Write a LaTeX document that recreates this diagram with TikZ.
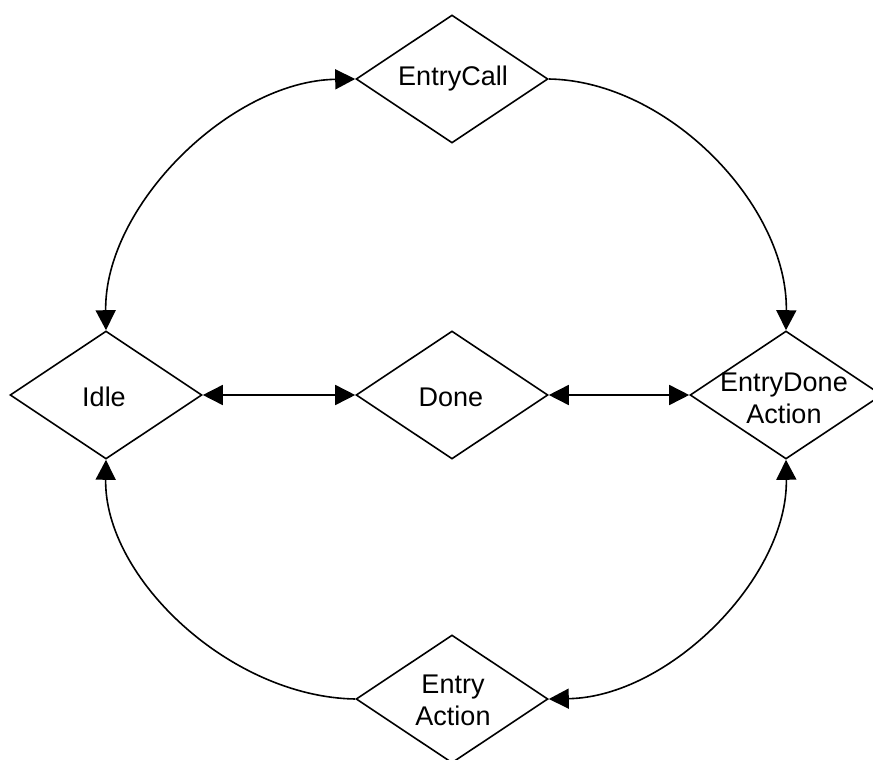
\documentclass[tikz,border=0pt]{standalone}
\usepackage{fontspec}
\setmainfont{Liberation Sans}
\usetikzlibrary{shapes.geometric,arrows.meta}
\begin{document}
\begin{tikzpicture}[x=1pt,y=-1pt,
  state/.style={diamond,draw,line width=1.6pt,inner sep=0pt,minimum width=192pt,minimum height=128pt},
  txt/.style={font=\fontsize{27}{32}\selectfont,align=center,inner sep=0pt},
  link/.style={line width=1.6pt},
  tip/.style={-{Triangle[length=20pt,width=20pt]}},
  tips/.style={{Triangle[length=20pt,width=20pt]}-{Triangle[length=20pt,width=20pt]}}]
\useasboundingbox (0,0) rectangle (873,760);
\node[state] (ec) at (452,79) {};
\node[state] (idle) at (106,395) {};
\node[state] (done) at (452,395) {};
\node[state] (ed) at (786,395) {};
\node[state] (ea) at (452,699) {};
\node[txt] (tec) at (453,79) {EntryCall};
\node[txt] (tidle) at (104,397) {Idle};
\node[txt] (tdone) at (451,397) {Done};
\node[txt] (ted) at (784,398) {EntryDone\\Action};
\node[txt] (tea) at (453,700) {Entry\\Action};
\draw[link,tips] (idle.east) -- (done.west);
\draw[link,tips] (done.east) -- (ed.west);
\draw[link,tips] (ec.west) .. controls +(-125,2) and +(-2,-124) .. (idle.north);
\draw[link,tip] (ec.east) .. controls +(120,2) and +(2,-124) .. (ed.north);
\draw[link,tip] (ea.west) .. controls +(-125,-2) and +(-2,118) .. (idle.south);
\draw[link,tips] (ed.south) .. controls +(2,118) and +(120,-2) .. (ea.east);
\end{tikzpicture}
\end{document}
